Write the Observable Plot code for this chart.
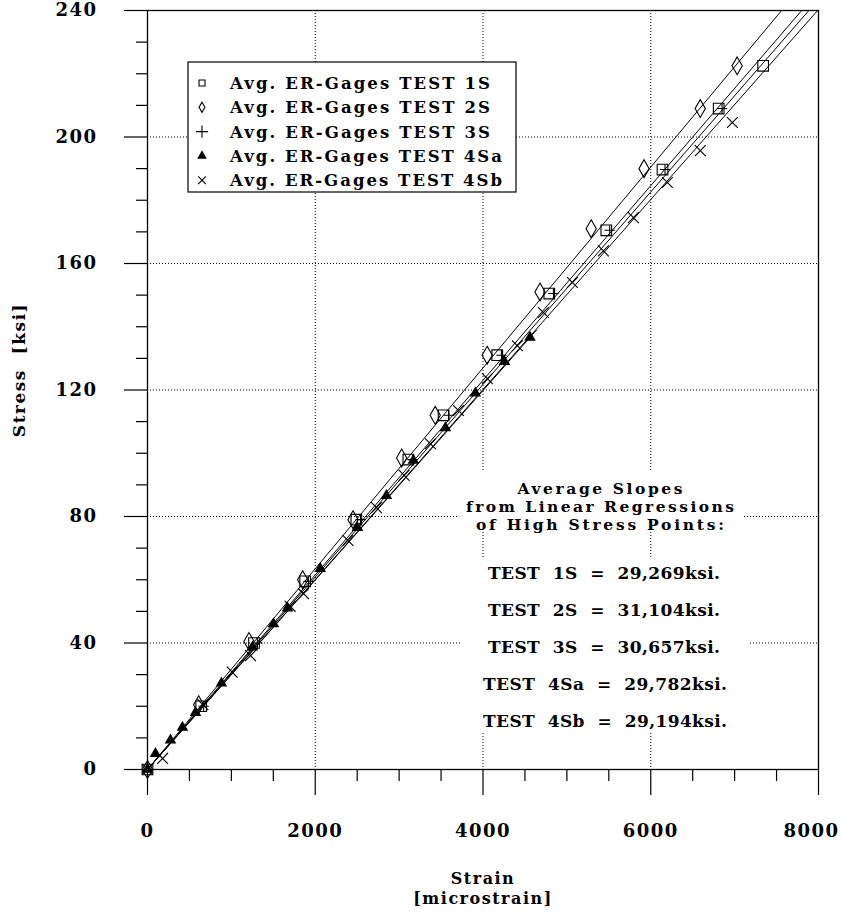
<!DOCTYPE html>
<html><head><meta charset="utf-8">
<script src="https://cdn.jsdelivr.net/npm/d3@7"></script>
<script src="https://cdn.jsdelivr.net/npm/@observablehq/plot@0.6"></script>
<style>
body{margin:0;background:#fff;}
#chart svg text{font-family:"DejaVu Serif",serif;font-weight:bold;}
</style></head><body><div id="chart"></div>
<script>
// ---- axes / ticks ----
const xMajor = [0, 2000, 4000, 6000, 8000];
const xMinor = [500, 1000, 1500, 2500, 3000, 3500, 4500, 5000, 5500, 6500, 7000, 7500];
const yMajor = [0, 40, 80, 120, 160, 200, 240];
const yMinor = [10, 20, 30, 50, 60, 70, 90, 100, 110, 130, 140, 150, 170, 180, 190, 210, 220, 230];
const xGrid = [2000, 4000, 6000];
const yGrid = [40, 80, 120, 160, 200];

// ---- series (strain in microstrain, stress in ksi) ----
const tests = ["1S", "2S", "3S", "4Sa", "4Sb"];
const legendLabels = ["Avg. ER-Gages TEST 1S", "Avg. ER-Gages TEST 2S", "Avg. ER-Gages TEST 3S", "Avg. ER-Gages TEST 4Sa", "Avg. ER-Gages TEST 4Sb"];

const strain1S = [0, 640, 1270, 1880, 2490, 3110, 3530, 4170, 4790, 5470, 6140, 6810, 7340];
const stress1S = [0, 20, 40, 59.5, 79, 98, 112, 131, 150.5, 170.5, 189.7, 209, 222.5];

const strain2S = [0, 610, 1210, 1850, 2450, 3030, 3430, 4050, 4680, 5290, 5920, 6590, 7030];
const stress2S = [0, 20.5, 40.5, 60, 79, 98.5, 112, 131, 151, 171, 190, 209, 222.5];

const strain3S = [0, 670, 1310, 1920, 2540, 3160, 3590, 4220, 4840, 5510, 6170, 6850];
const stress3S = [0, 20, 40, 59.5, 79, 98, 112, 131, 150.5, 170.5, 189.7, 209];

const strain4Sa = [0, 95, 274, 417, 572, 882, 1251, 1502, 1669, 2060, 2503, 2849, 3170, 3552, 3909, 4255, 4560];
const stress4Sa = [0, 5, 9.3, 13.3, 18, 27.3, 38.7, 46, 51, 63.5, 76.5, 86.6, 97.7, 108, 119, 129, 136.6];

const strain4Sb = [0, 180, 660, 1010, 1228, 1700, 1860, 2390, 2730, 3060, 3373, 3707, 4052, 4410, 4720, 5066, 5435, 5793, 6198, 6591, 6973];
const stress4Sb = [0, 3.5, 20.5, 30.8, 36, 51.6, 55.6, 72.4, 82.8, 93, 103, 113.5, 123.6, 134, 144.5, 154, 164, 174.5, 185.6, 195.7, 204.6];

// regression lines (start / end points)
const fitTest = ["2S", "2S", "1S", "1S", "3S", "3S", "4Sa", "4Sa", "4Sb", "4Sb"];
const fitStrain = [0, 7560, 0, 7800, 0, 7885, 0, 4640, 0, 7990];
const fitStress = [0, 240, 0, 240, 0, 240, 0, 139, 0, 240];

// slopes annotation
const noteHead = ["Average Slopes", "from Linear Regressions", "of High Stress Points:"];
const slopeTests = ["TEST  1S", "TEST  2S", "TEST  3S", "TEST  4Sa", "TEST  4Sb"];
const slopeValues = ["29,269ksi.", "31,104ksi.", "30,657ksi.", "29,782ksi.", "29,194ksi."];

const rows = (xs, ys) => xs.map((x, i) => ({strain: x, stress: ys[i]}));
const fitRows = fitTest.map((t, i) => ({test: t, strain: fitStrain[i], stress: fitStress[i]}));

const dotted = {stroke: "black", strokeWidth: 1, strokeDasharray: "1,2"};

const chart = Plot.plot({
  width: 842, height: 918,
  marginLeft: 147, marginRight: 24, marginTop: 10, marginBottom: 149,
  x: {domain: [0, 8000]},
  y: {domain: [0, 240]},
  style: {background: "white", color: "black", fontFamily: "'DejaVu Serif', serif", fontWeight: "bold", fontSize: "16px"},
  marks: [
    Plot.ruleX(xGrid, {x: d => d, ...dotted}),
    Plot.ruleY(yGrid, {y: d => d, ...dotted}),
    Plot.axisX(xMinor, {tickSize: 12, fill: "none", label: null, stroke: "black", strokeWidth: 1.2}),
    Plot.axisX(xMajor, {tickSize: 26, fill: "none", label: null, stroke: "black", strokeWidth: 1.2}),
    Plot.axisY(yMinor, {tickSize: 11, fill: "none", label: null, stroke: "black", strokeWidth: 1.2}),
    Plot.axisY(yMajor, {tickSize: 23, fill: "none", label: null, stroke: "black", strokeWidth: 1.2}),
    Plot.frame({stroke: "black", strokeWidth: 1.3}),
    Plot.text(xMajor.slice(0, -1), {x: d => d, text: d => String(d), frameAnchor: "bottom", dy: 67, textAnchor: "middle", fontSize: 18, fill: "black"}),
    Plot.text(xMajor.slice(-1), {x: d => d, text: d => String(d), frameAnchor: "bottom", dy: 67, dx: -7, textAnchor: "middle", fontSize: 18, fill: "black"}),
    Plot.text(yMajor, {y: d => d, text: d => String(d), frameAnchor: "left", dx: -50, textAnchor: "end", fontSize: 18, fill: "black"}),
    Plot.line(fitRows, {x: "strain", y: "stress", z: "test", stroke: "black", strokeWidth: 1, clip: true}),
    Plot.dot(rows(strain1S, stress1S), {x: "strain", y: "stress", symbol: "square", r: 6, fill: "none", stroke: "black", strokeWidth: 1.1}),
    Plot.dot(rows(strain2S, stress2S), {x: "strain", y: "stress", symbol: "diamond", r: 5.4, fill: "none", stroke: "black", strokeWidth: 1.1}),
    Plot.dot(rows(strain3S, stress3S), {x: "strain", y: "stress", symbol: "plus", r: 3.4, fill: "none", stroke: "black", strokeWidth: 1.1}),
    Plot.dot(rows(strain4Sa, stress4Sa), {x: "strain", y: "stress", symbol: "triangle", r: 4.3, fill: "black", stroke: "none"}),
    Plot.dot(rows(strain4Sb, stress4Sb), {x: "strain", y: "stress", symbol: "times", r: 5, fill: "none", stroke: "black", strokeWidth: 1.1}),
    Plot.text(["Stress  [ksi]"], {frameAnchor: "left", dx: -128, dy: -20, rotate: -90, textAnchor: "middle", fontSize: 17, fill: "black"}),
    Plot.text(["Strain"], {frameAnchor: "bottom", dy: 114, textAnchor: "middle", fontSize: 16, fill: "black"}),
    Plot.text(["[microstrain]"], {frameAnchor: "bottom", dy: 134, textAnchor: "middle", fontSize: 16, fill: "black"})
  ]
});
document.getElementById("chart").appendChild(chart);

const svg = d3.select(chart);
svg.selectAll("text").style("letter-spacing", "1.5px");

// ---- legend ----
const legendTypes = [d3.symbolSquare, d3.symbolDiamond, d3.symbolPlus, d3.symbolTriangle, d3.symbolTimes];
const legendSizes = [36, 30, 50, 40, 40];
const legendFill = ["none", "none", "none", "black", "none"];
const lg = svg.append("g").attr("text-anchor", "start");
lg.append("rect").attr("x", 188).attr("y", 62).attr("width", 328).attr("height", 130)
  .attr("fill", "white").attr("stroke", "black").attr("stroke-width", 1.2);
legendLabels.forEach((lab, i) => {
  const yy = 83 + i * 24.3;
  lg.append("path").attr("d", d3.symbol(legendTypes[i], legendSizes[i])())
    .attr("transform", `translate(202,${yy})`)
    .attr("fill", legendFill[i]).attr("stroke", legendFill[i] === "black" ? "none" : "black").attr("stroke-width", 1.1);
  lg.append("text").attr("x", 230).attr("y", yy).attr("dy", "0.36em")
    .attr("text-anchor", "start").attr("font-size", 16.5)
    .attr("textLength", i < 3 ? 260 : 272).attr("lengthAdjust", "spacing")
    .attr("fill", "black").text(lab);
});

// ---- slopes annotation ----
const ng = svg.append("g");
ng.append("rect").attr("x", 458).attr("y", 470).attr("width", 284).attr("height", 62).attr("fill", "white");
ng.append("rect").attr("x", 460).attr("y", 557).attr("width", 290).attr("height", 176).attr("fill", "white");
const headLen = [165, 268, 248];
noteHead.forEach((t, i) => {
  ng.append("text").attr("x", 600).attr("y", 488 + i * 18).attr("dy", "0.36em")
    .attr("text-anchor", "middle").attr("font-size", 15.5)
    .attr("textLength", headLen[i]).attr("lengthAdjust", "spacing")
    .attr("fill", "black").text(t);
});
slopeTests.forEach((t, i) => {
  const yy = 573 + i * 37;
  ng.append("text").attr("x", i < 3 ? 488 : 483).attr("y", yy).attr("dy", "0.36em")
    .attr("text-anchor", "start").attr("font-size", 17)
    .attr("textLength", i < 3 ? 232 : 244).attr("lengthAdjust", "spacing")
    .attr("fill", "black").attr("xml:space", "preserve")
    .text(`${t}  =  ${slopeValues[i]}`);
});
</script></body></html>
